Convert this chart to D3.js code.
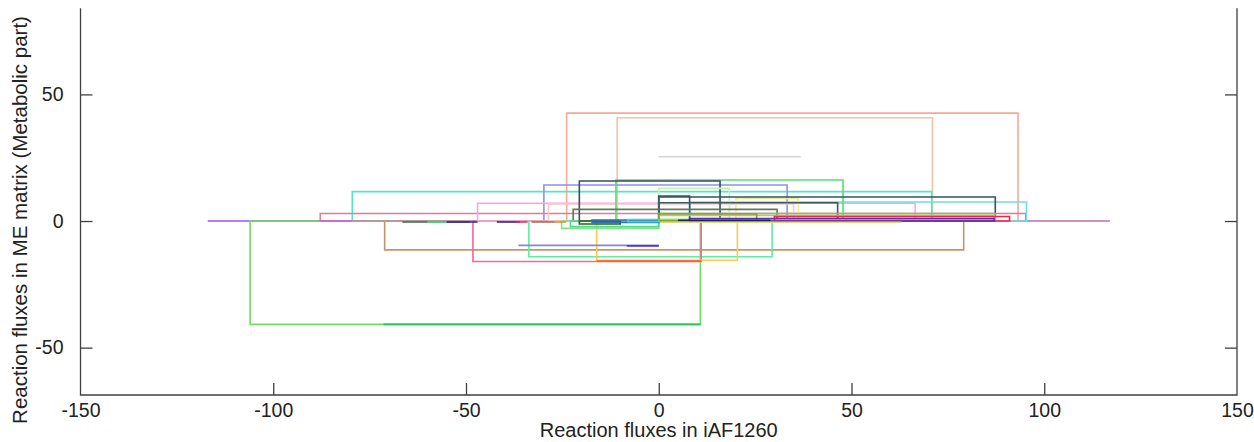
<!DOCTYPE html>
<html>
<head>
  <meta charset="utf-8">
  <title>Reaction flux ranges</title>
  <script src="https://cdn.jsdelivr.net/npm/d3@7"></script>
  <style>
    body {
      margin: 0;
      background: #fff;
    }
    text {
      font-family: "Liberation Sans", Arial, sans-serif;
      fill: #222;
    }
  </style>
</head>
<body>
    <svg id="chart"></svg>
    <script>
        // flux ranges per reaction: iAF1260 (x) against ME matrix (y)
        var iafMin = [-117, 20, -23.9, -10.8, 0, -106, -71.4, -71.1, -33.7, -48.2, -16.1, -16.1,
                      -79.5, -29.8, -87.8, -47, -28.6, 8.1, -11.1, -20.6, 0, 20, 0, 0, 0,
                      -22.2, 0, 0, 0, 30, 8, 5, 0, -25.2, -22.9, -20.6, -17.3, -8, -36.4, -8.3,
                      -66.5, -60, -55, -42, -37, -33, -27, -88];
        var iafMax = [117, 117, 93.2, 71.0, 36.8, 10.8, 10.8, 79.1, 29.4, 11, 20.4, 11,
                      70.8, 33.3, 95.2, 66.5, 35, 95.4, 47.8, 15.9, 18.3, 36.2, 87.3, 8, 46.4,
                      30.7, 87.3, 87, 25.4, 91, 87, 29, 63, 0, 0, -10, 0, 0, 0, 0,
                      -49, -55, -47, -36, -34, -27, -24, -79.5];
        var meMin  = [0, 0, 0, 0, 25.4, -40.8, -40.8, -11.4, -14.1, -16.0, -15.5, -15.8,
                      0, 0, 0, 0, 0, 0, 0, 0, 1, 0, 0, 0, 0,
                      0, 0, 0.5, 0, 0, 0, 0.3, -0.5, -2.9, -2.2, -1.2, -0.6, -0.3, -9.6, -9.8,
                      -0.4, -0.4, -0.4, -0.4, -0.4, -0.4, -0.4, 0];
        var meMax  = [0, 0, 42.6, 40.8, 25.4, 0, -40.8, 0, 0, 0, 0, -15.8,
                      11.6, 14.2, 3.0, 7.0, 6.7, 7.5, 16.2, 15.8, 12.9, 8.9, 9.5, 9.9, 7.2,
                      4.6, 3.0, 2.2, 2.8, 1.8, 1, 0.3, -0.5, 0, 0, 0, 0.4, 0.6, -9.6, -9.8,
                      -0.4, -0.4, -0.4, -0.4, -0.4, -0.4, -0.4, 0];
        var rxnColors = ["#a050f0", "#c8a0b8", "#f8a898", "#eec4aa", "#d4d4d4", "#70dc60", "#20c850",
                         "#c4956a", "#5cf0a0", "#f06898", "#ffc850", "#ff5a20",
                         "#50e8c8", "#9090f0", "#d88098", "#f5a8e0", "#f8c8c8", "#70dce8", "#55e070",
                         "#34505a", "#c4f4b4", "#f5eb8a", "#2f5560", "#2f5560", "#3c5a62",
                         "#607858", "#70c870", "#b8d040", "#8a9a40", "#ff2040", "#5830b0", "#202060",
                         "#d8e070", "#88dd88", "#40e090", "#2f5a18", "#3070b0", "#40d0e0", "#8888cc",
                         "#6030d0", "#3a7050", "#40e880", "#3020b0", "#202080", "#e03060", "#a07030",
                         "#e09020", "#d060e0"];
        var xTicks = [-150, -100, -50, 0, 50, 100, 150];
        var yTicks = [-50, 0, 50];

        var width = 1254, height = 442;
        var svg = d3.select("#chart")
          .attr("width", width)
          .attr("height", height);

        var x = d3.scaleLinear().domain([-150, 150]).range([80.5, 1237]);
        var y = d3.scaleLinear().domain([-68.7, 84]).range([395, 8.3]);

        var rows = d3.range(iafMin.length).map(function(i) {
            return {x0: iafMin[i], x1: iafMax[i], y0: meMin[i], y1: meMax[i], c: rxnColors[i]};
        });

        // each reaction is an outlined box; flat ones collapse to a line
        svg.append("g")
          .selectAll("path")
          .data(rows)
          .join("path")
            .attr("d", function(d) {
                var p = d3.path();
                p.rect(x(d.x0), y(d.y1), x(d.x1) - x(d.x0), y(d.y0) - y(d.y1));
                return p.toString();
            })
            .attr("fill", "none")
            .attr("stroke", function(d) { return d.c; })
            .attr("stroke-width", 1.6);

        // axes: left, bottom and right, ticks pointing inside
        var axisColor = "#404040";
        var plain = function(d) { return String(d); };   // hyphen, not the unicode minus
        var frame = svg.append("g")
          .attr("stroke", axisColor)
          .attr("stroke-width", 1.3)
          .attr("fill", "none");
        frame.append("path")
          .attr("d", "M" + x(-150) + "," + y(84) + "V" + y(-68.7) + "H" + x(150) + "V" + y(84));

        var xa = d3.axisBottom(x).tickValues(xTicks).tickSize(-12).tickPadding(10).tickFormat(plain);
        var gx = svg.append("g").attr("transform", "translate(0," + y(-68.7) + ")").call(xa);
        gx.select(".domain").remove();
        gx.selectAll(".tick line").attr("stroke", axisColor).attr("stroke-width", 1.3);
        gx.selectAll(".tick line").filter(function(d) { return d === -150 || d === 150; }).remove();
        gx.selectAll(".tick text")
          .attr("font-size", 19.5)
          .attr("font-family", "Liberation Sans, Arial, sans-serif")
          .attr("fill", "#222")
          .attr("dy", "0.62em");

        var ya = d3.axisLeft(y).tickValues(yTicks).tickSize(-12).tickPadding(17).tickFormat(plain);
        var gy = svg.append("g").attr("transform", "translate(" + x(-150) + ",0)").call(ya);
        gy.select(".domain").remove();
        gy.selectAll(".tick line").attr("stroke", axisColor).attr("stroke-width", 1.3);
        gy.selectAll(".tick text")
          .attr("font-size", 19.5)
          .attr("font-family", "Liberation Sans, Arial, sans-serif")
          .attr("fill", "#222");

        var yr = d3.axisRight(y).tickValues(yTicks).tickSize(-12).tickFormat("");
        var gr = svg.append("g").attr("transform", "translate(" + x(150) + ",0)").call(yr);
        gr.select(".domain").remove();
        gr.selectAll(".tick line").attr("stroke", axisColor).attr("stroke-width", 1.3);

        svg.append("text")
          .attr("x", x(0))
          .attr("y", 437)
          .attr("text-anchor", "middle")
          .attr("font-size", 20)
          .text("Reaction fluxes in iAF1260");

        svg.append("text")
          .attr("transform", "translate(27," + 220 + ") rotate(-90)")
          .attr("text-anchor", "middle")
          .attr("font-size", 20.5)
          .text("Reaction fluxes in ME matrix (Metabolic part)");
    </script>
</body>
</html>
